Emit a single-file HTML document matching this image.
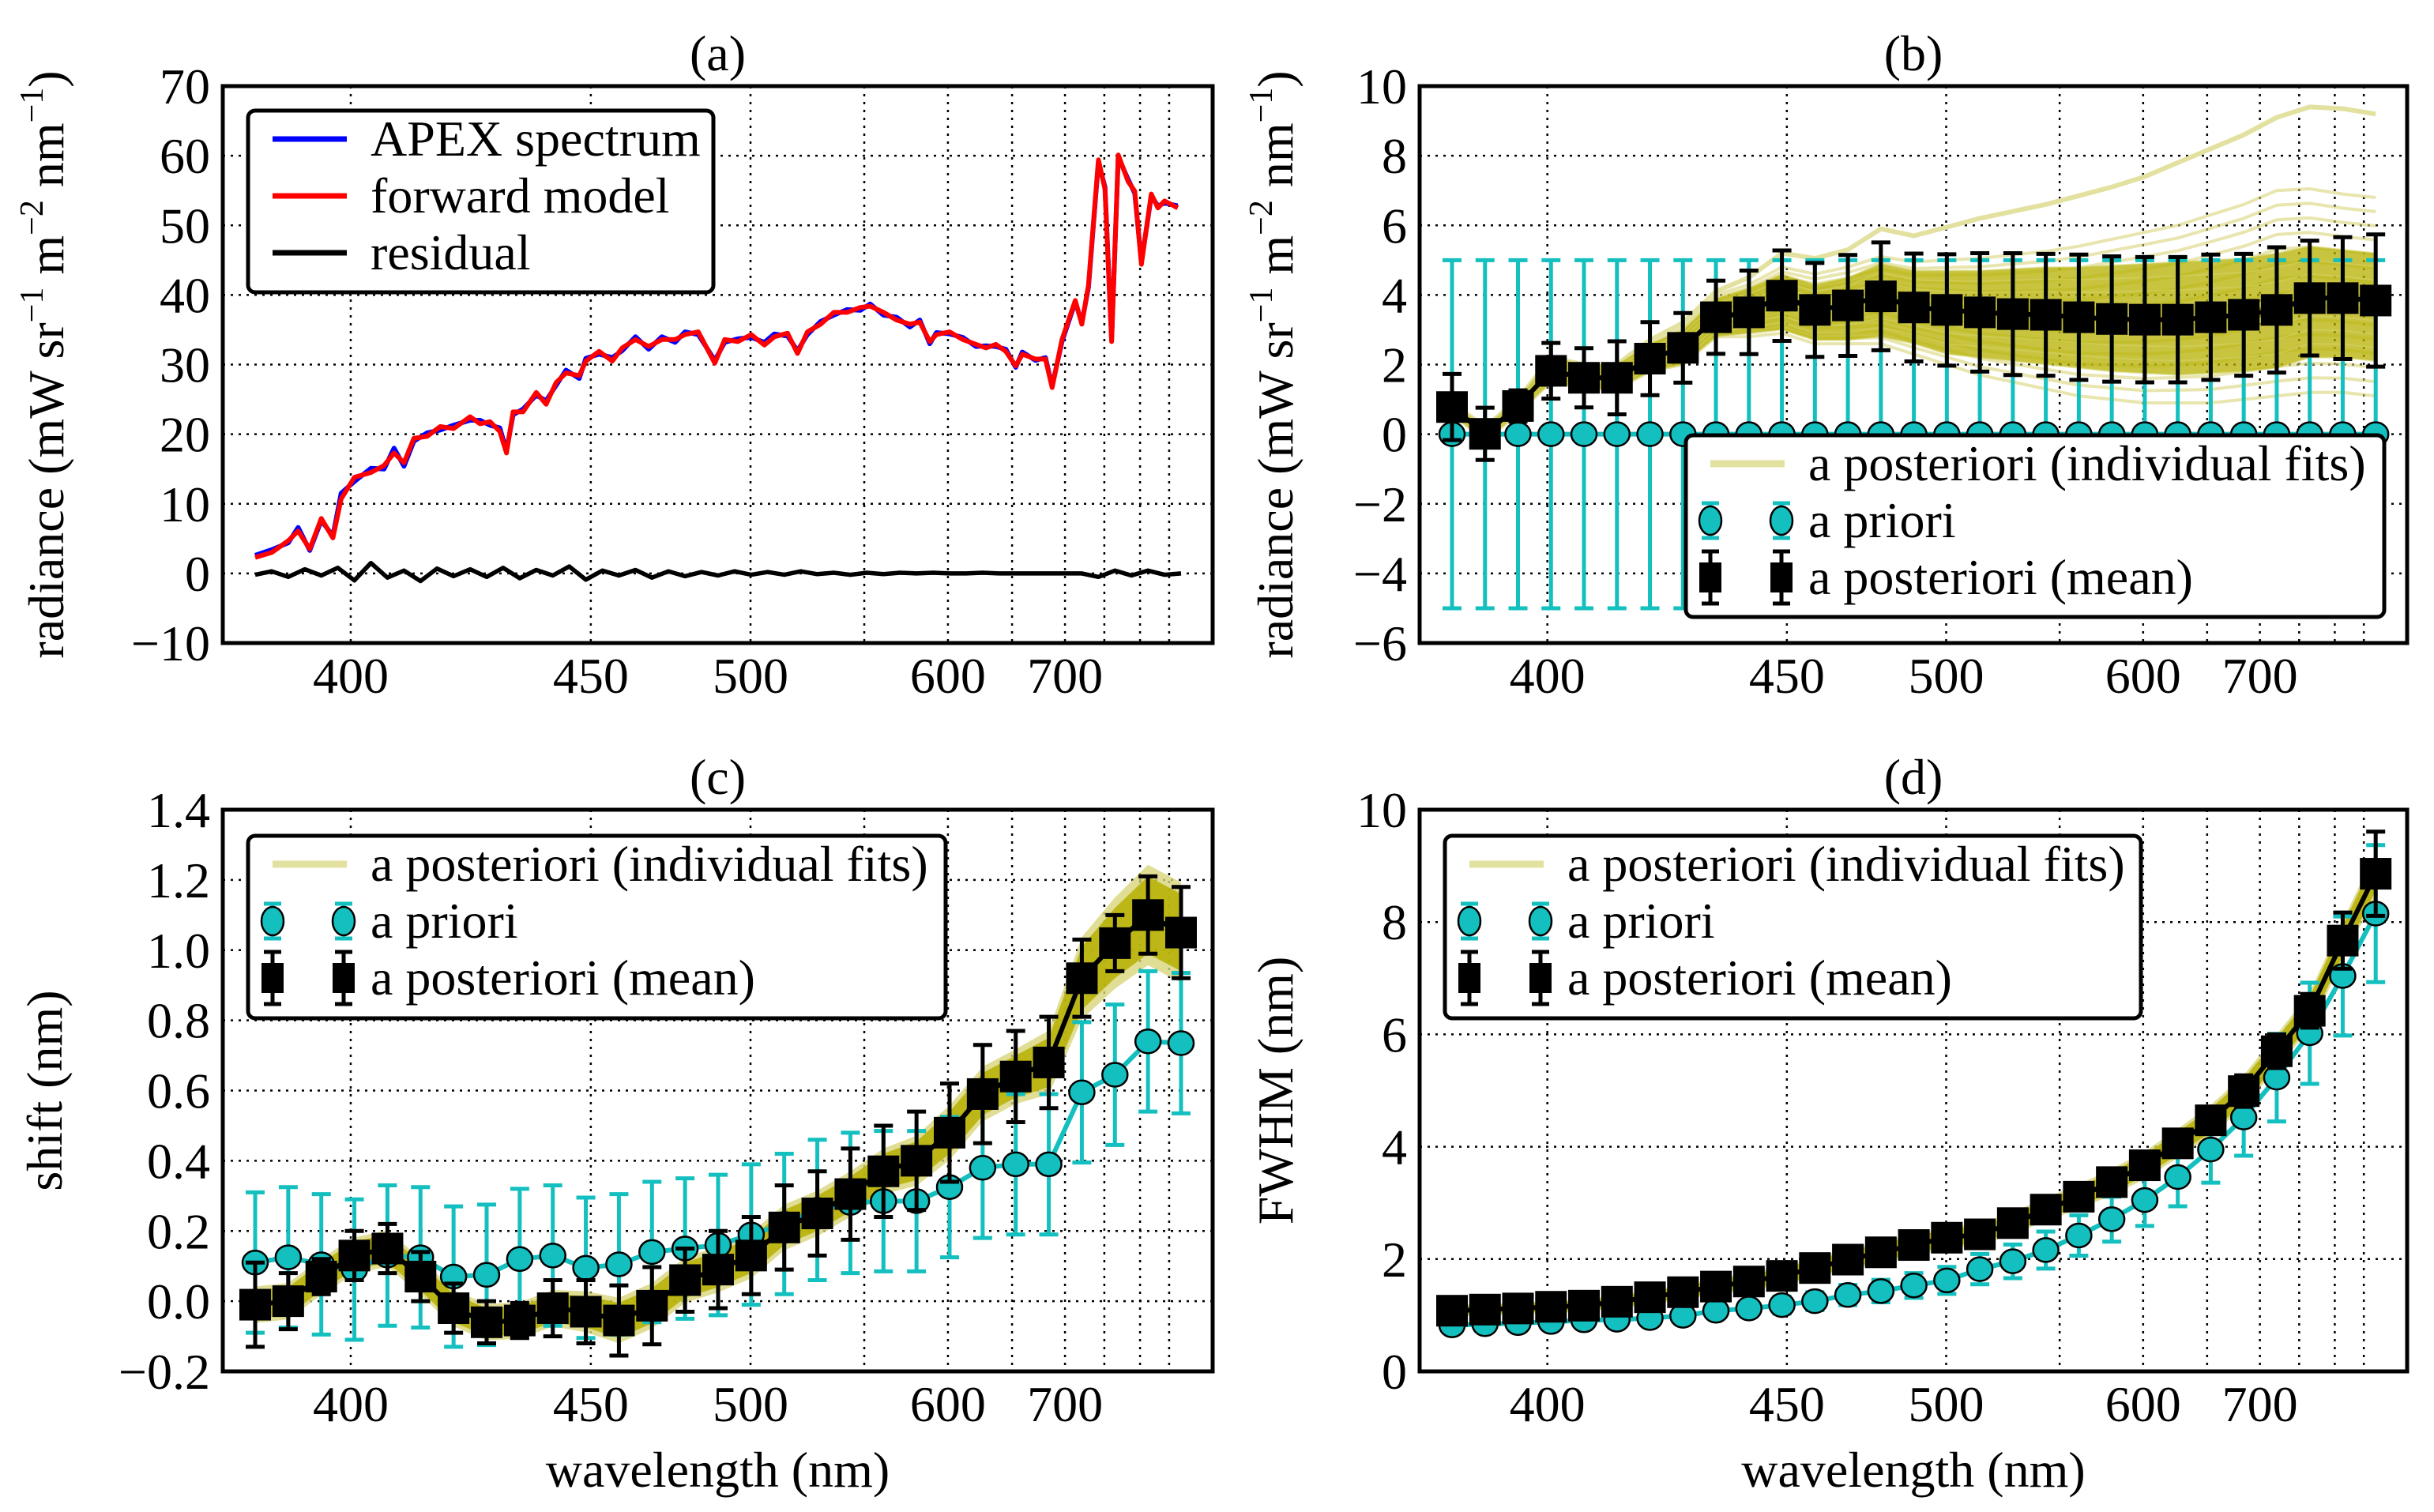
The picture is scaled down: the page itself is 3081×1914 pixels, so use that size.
<!DOCTYPE html>
<html><head><meta charset="utf-8"><style>
html,body{margin:0;padding:0;background:#fff;}
svg{display:block;font-family:"Liberation Serif","DejaVu Serif",serif;}
</style></head><body>
<svg id="fig" xmlns="http://www.w3.org/2000/svg" width="3081" height="1914" viewBox="0 0 3081 1914"></svg>
<script>
// ---- shared x axis (sample index space; wavelength tick labels) ----
const tickIdx=[2.89,10.15,14.98,18.42,20.95,22.89,24.49,25.68,26.76,27.64];
const tickWl=[400,450,500,550,600,650,700,750,800,850];
const tickShown=[true,true,true,false,true,false,true,false,false,false];
const sampleIdx=[0,1,2,3,4,5,6,7,8,9,10,11,12,13,14,15,16,17,18,19,20,21,22,23,24,25,26,27,28];

// ---- panel (a) ----
const specIdx=[0,0.5,1,1.3,1.65,2,2.35,2.6,3,3.5,3.9,4.2,4.5,4.8,5.2,5.6,6,6.5,6.8,7.1,7.4,7.6,7.8,8.1,8.5,8.8,9.1,9.4,9.8,10,10.4,10.8,11.1,11.5,11.9,12.3,12.7,13,13.4,13.9,14.2,14.6,15,15.4,15.7,16.1,16.4,16.7,17.1,17.5,17.9,18.3,18.6,19,19.4,19.8,20.1,20.4,20.6,21,21.4,21.8,22.1,22.4,22.7,23,23.2,23.6,23.9,24.1,24.4,24.8,25,25.2,25.5,25.7,25.9,26.1,26.4,26.6,26.8,27.1,27.3,27.5,27.9];
const forwardModel=[2.3,3.0,4.7,6.1,3.5,7.9,5.1,10.7,13.8,14.5,15.5,17.3,15.9,19.4,19.7,21.1,20.8,22.5,21.5,21.8,20.4,17.3,23.2,23.2,26.0,24.3,27.4,28.8,28.4,30.5,31.9,30.5,32.4,33.6,32.6,33.6,33.6,34.3,34.7,30.2,33.6,33.3,34.3,32.8,34.0,34.5,31.6,34.7,35.8,37.5,37.5,38.2,38.4,37.5,36.4,35.8,36.1,33.3,34.3,34.7,33.6,32.9,32.4,32.9,31.9,29.8,31.5,30.8,30.8,26.7,33.6,39.2,35.8,41.4,59.4,55.2,33.3,60.1,56.3,54.9,44.4,54.5,52.5,53.5,52.5];
const apexSpectrum=[2.6,3.4,4.4,6.6,3.3,7.6,5.4,11.5,13.2,15.1,15.0,18.0,15.4,19.0,20.2,20.6,21.3,22.0,22.0,21.3,20.9,17.6,22.8,23.6,25.6,24.8,27.0,29.2,28.0,30.9,31.5,31.0,32.0,34.0,32.2,34.0,33.2,34.7,34.3,30.6,33.2,33.7,33.9,33.2,34.4,34.1,32.0,34.3,36.2,37.1,37.9,37.8,38.7,37.1,36.8,35.4,36.4,33.0,34.6,34.4,33.9,32.6,32.7,32.6,32.2,29.6,31.8,30.6,31.0,26.9,33.3,39.0,36.0,41.1,59.1,55.5,33.6,59.8,56.6,54.6,44.7,54.2,52.8,53.2,52.8];
const residual=[-0.2,0.3,-0.5,0.6,-0.3,0.8,-1.0,1.5,-0.6,0.4,-1.1,0.7,-0.4,0.6,-0.5,0.8,-0.7,0.5,-0.3,1.0,-0.9,0.4,-0.3,0.5,-0.6,0.3,-0.4,0.2,-0.3,0.3,-0.2,0.2,-0.2,0.3,-0.1,0.1,-0.2,0.1,-0.1,0.1,0,0.1,0,0,0.1,0,0,0,0,0,0,-0.5,0.4,-0.3,0.4,-0.2,0];

// ---- panel (b) ----
const bMean=[0.78,0.01,0.81,1.82,1.62,1.62,2.17,2.48,3.36,3.5,3.98,3.57,3.7,3.96,3.64,3.57,3.5,3.45,3.43,3.36,3.31,3.29,3.29,3.36,3.43,3.57,3.91,3.91,3.84];
const bMeanErr=[0.95,0.75,0.45,0.8,0.85,1.05,1.05,1.0,1.05,1.2,1.3,1.35,1.45,1.55,1.55,1.6,1.7,1.75,1.75,1.8,1.8,1.8,1.8,1.8,1.75,1.8,1.65,1.75,1.9];
const bPrior=[0,0,0,0,0,0,0,0,0,0,0,0,0,0,0,0,0,0,0,0,0,0,0,0,0,0,0,0,0];
const bPriorErr=[5,5,5,5,5,5,5,5,5,5,5,5,5,5,5,5,5,5,5,5,5,5,5,5,5,5,5,5,5];
const bBandHi=[0.9,0.2,1.0,2.2,2.0,2.0,2.6,3.0,3.9,4.2,4.6,4.3,4.5,4.9,4.7,4.7,4.7,4.75,4.8,4.8,4.85,4.9,4.95,5.0,5.05,5.2,5.4,5.3,5.2];
const bBandLo=[0.6,-0.2,0.6,1.5,1.3,1.3,1.8,2.0,2.8,2.9,3.0,2.7,2.7,2.8,2.6,2.3,2.2,2.1,2.0,1.9,1.8,1.75,1.7,1.75,1.8,1.9,2.2,2.2,2.1];
const bFitHi=[0.9,0.2,1.0,2.2,2.0,2.0,2.6,3.1,4.0,4.3,4.8,4.6,4.8,5.1,4.95,5.0,5.05,5.15,5.25,5.4,5.6,5.8,6.0,6.3,6.6,7.0,7.05,6.9,6.8];
const bFitLo=[0.6,-0.2,0.6,1.5,1.3,1.3,1.8,2.0,2.8,2.8,2.9,2.6,2.6,2.6,2.3,2.0,1.7,1.5,1.3,1.1,1.0,0.9,0.9,0.9,1.0,1.1,1.2,1.2,1.1];
const bOutlier=[0.9,0.2,1.0,2.2,2.0,2.0,2.7,3.2,4.1,4.5,5.2,5.05,5.3,5.9,5.7,5.95,6.2,6.4,6.6,6.85,7.1,7.4,7.8,8.2,8.6,9.1,9.4,9.35,9.2];

// ---- panel (c) ----
const cMean=[-0.01,0.0,0.07,0.13,0.15,0.07,-0.02,-0.06,-0.055,-0.02,-0.03,-0.055,-0.013,0.06,0.09,0.13,0.21,0.25,0.305,0.37,0.40,0.48,0.59,0.64,0.68,0.92,1.02,1.10,1.05];
const cMeanErr=[0.12,0.08,0.05,0.07,0.07,0.07,0.07,0.06,0.05,0.08,0.09,0.1,0.11,0.09,0.11,0.11,0.12,0.12,0.13,0.13,0.14,0.14,0.14,0.13,0.13,0.11,0.08,0.11,0.13];
const cPrior=[0.11,0.125,0.105,0.09,0.13,0.125,0.07,0.075,0.12,0.13,0.095,0.105,0.14,0.15,0.16,0.19,0.22,0.26,0.28,0.285,0.285,0.325,0.38,0.39,0.39,0.595,0.645,0.74,0.735];
const cPriorErr=[0.2,0.2,0.2,0.2,0.2,0.2,0.2,0.2,0.2,0.2,0.2,0.2,0.2,0.2,0.2,0.2,0.2,0.2,0.2,0.2,0.2,0.2,0.2,0.2,0.2,0.2,0.2,0.2,0.2];
const cSpread=[0.04,0.04,0.04,0.04,0.04,0.04,0.04,0.04,0.04,0.04,0.045,0.05,0.05,0.05,0.05,0.05,0.05,0.05,0.05,0.05,0.055,0.06,0.06,0.06,0.07,0.09,0.1,0.11,0.11];

// ---- panel (d) ----
const dMean=[1.08,1.10,1.12,1.15,1.17,1.24,1.32,1.41,1.51,1.60,1.70,1.84,1.99,2.12,2.25,2.38,2.44,2.64,2.88,3.11,3.37,3.67,4.06,4.47,4.99,5.70,6.42,7.67,8.86];
const dMeanErr=[0.05,0.05,0.05,0.05,0.05,0.05,0.05,0.06,0.06,0.06,0.07,0.07,0.07,0.08,0.08,0.09,0.1,0.1,0.12,0.13,0.15,0.17,0.2,0.24,0.28,0.3,0.3,0.5,0.75];
const dPrior=[0.82,0.84,0.86,0.88,0.91,0.92,0.95,0.99,1.08,1.12,1.18,1.25,1.36,1.43,1.53,1.62,1.82,1.96,2.16,2.42,2.71,3.05,3.46,3.95,4.52,5.23,6.02,7.04,8.15];
const dPriorErr=[0.1,0.1,0.1,0.1,0.1,0.1,0.11,0.12,0.13,0.14,0.15,0.16,0.18,0.2,0.22,0.24,0.27,0.3,0.33,0.36,0.4,0.46,0.52,0.59,0.68,0.78,0.9,1.06,1.22];
const dSpread=[0.08,0.08,0.08,0.08,0.09,0.09,0.1,0.1,0.11,0.12,0.13,0.14,0.15,0.15,0.15,0.15,0.15,0.15,0.16,0.17,0.18,0.19,0.2,0.21,0.22,0.23,0.25,0.27,0.3];

const NS='http://www.w3.org/2000/svg';
const svg=document.getElementById('fig');
function mk(tag,attrs,parent){const e=document.createElementNS(NS,tag);for(const k in attrs)e.setAttribute(k,attrs[k]);(parent||svg).appendChild(e);return e;}
const FS=64;
const CYAN='#14bfbf';

function makePanel(p){
  p.x=i=>p.l+41+i*(1172/28)*(p.w/1253);
  p.y=v=>p.t+p.h*(p.ymax-v)/(p.ymax-p.ymin);
  const g=mk('g',{});
  
  
  p.g=g;
  const cp=mk('clipPath',{id:'clip-'+p.id},g);
  mk('rect',{x:p.l,y:p.t,width:p.w,height:p.h},cp);
  const grid=mk('g',{stroke:'#000','stroke-width':2.5,'stroke-dasharray':'3,7'},g);
  
  
  for(let k=0;k<tickIdx.length;k++){const X=p.x(tickIdx[k]);mk('line',{x1:X,x2:X,y1:p.t,y2:p.t+p.h},grid);}
  for(const v of p.yt){const Y=p.y(v);mk('line',{x1:p.l,x2:p.l+p.w,y1:Y,y2:Y},grid);}
  for(let k=0;k<tickIdx.length;k++){
    if(!tickShown[k])continue;
    const t=mk('text',{x:p.x(tickIdx[k]),y:p.t+p.h+63,'font-size':FS,'text-anchor':'middle'},g);
    
    
    t.textContent=tickWl[k];
  }
  for(const v of p.yt){
    const t=mk('text',{x:p.l-16,y:p.y(v)+22,'font-size':FS,'text-anchor':'end'},g);
    
    
    t.textContent=p.fmt(v);
  }
  const title=mk('text',{x:p.l+p.w/2,y:p.t-20,'font-size':FS,'text-anchor':'middle'},g);
  
  
  title.textContent='('+p.id+')';
  const yl=mk('text',{transform:`translate(${p.ylx},${p.t+p.h/2}) rotate(-90)`,'font-size':FS,'text-anchor':'middle'},g);
  
  
  if(p.ylab==='rad'){
    yl.innerHTML='radiance (mW sr<tspan font-size="42" dy="-26">−1</tspan><tspan dy="26"> m</tspan><tspan font-size="42" dy="-26">−2</tspan><tspan dy="26"> nm</tspan><tspan font-size="42" dy="-26">−1</tspan><tspan dy="26">)</tspan>';
  } else yl.textContent=p.ylab;
  if(p.xlab){
    const xl=mk('text',{x:p.l+p.w/2,y:1882,'font-size':FS,'text-anchor':'middle'},g);
    
    
    xl.textContent='wavelength (nm)';
  }
  const plot=mk('g',{'clip-path':`url(#clip-${p.id})`},g);
  
  
  p.plot=plot;
  return p;
}
function frame(p){
  const f=mk('rect',{x:p.l,y:p.t,width:p.w,height:p.h,fill:'none',stroke:'#000','stroke-width':5},p.g);
  
  
}
function pathD(p,xs,vs){return xs.map((i,k)=>(k?'L':'M')+p.x(i).toFixed(1)+','+p.y(vs[k]).toFixed(1)).join('');}
function line(p,xs,vs,color,w,name,op){
  const e=mk('path',{d:pathD(p,xs,vs),fill:'none',stroke:color,'stroke-width':w,'stroke-linejoin':'round','stroke-opacity':op||1},p.plot);
  
  
  return e;
}
function band(p,lo,hi,color,op,name){
  const d=pathD(p,sampleIdx,hi)+sampleIdx.slice().reverse().map(i=>'L'+p.x(i).toFixed(1)+','+p.y(lo[i]).toFixed(1)).join('')+'Z';
  const e=mk('path',{d:d,fill:color,'fill-opacity':op,stroke:'none'},p.plot);
  
  
}
function errSeries(p,vals,errs,color,marker,name){
  const g=mk('g',{},p.plot);
  
  
  for(let k=0;k<vals.length;k++){
    const X=p.x(sampleIdx[k]),y1=p.y(vals[k]+errs[k]),y2=p.y(vals[k]-errs[k]);
    const eb=mk('path',{d:`M${X},${y1}L${X},${y2}M${X-12},${y1}L${X+12},${y1}M${X-12},${y2}L${X+12},${y2}`,stroke:color,'stroke-width':5,fill:'none'},g);
    
    
  }
  const ln=mk('path',{d:pathD(p,sampleIdx,vals),fill:'none',stroke:color,'stroke-width':6,'stroke-linejoin':'round'},g);
  
  
  for(let k=0;k<vals.length;k++){
    const X=p.x(sampleIdx[k]),Y=p.y(vals[k]);
    let m;
    if(marker==='circle') m=mk('ellipse',{cx:X,cy:Y,rx:16,ry:15,fill:CYAN,stroke:'#000','stroke-width':2.5},g);
    else m=mk('rect',{x:X-20,y:Y-20,width:40,height:40,fill:'#000'},g);
    
    
  }
}
function legend(p,x,y,w,h,entries){
  const g=mk('g',{},p.g);
  
  
  const bx=mk('rect',{x:x,y:y,width:w,height:h,rx:9,fill:'#fff',stroke:'#000','stroke-width':5},g);
  
  
  entries.forEach((en,k)=>{
    const cy=y+36+k*72;
    const sx=x+31, ex=x+125;
    const eg=mk('g',{},g);
    
    
    if(en.type==='line'){mk('line',{x1:sx,x2:ex,y1:cy,y2:cy,stroke:en.color,'stroke-width':en.w||7},eg);}
    else{
      for(const X of [sx,sx+90]){
        const e=en.type==='circle'?22:33;
        mk('path',{d:`M${X},${cy-e}L${X},${cy+e}M${X-11},${cy-e}L${X+11},${cy-e}M${X-11},${cy+e}L${X+11},${cy+e}`,stroke:en.color,'stroke-width':5},eg);
        if(en.type==='circle')mk('ellipse',{cx:X,cy:cy,rx:14,ry:18,fill:CYAN,stroke:'#000','stroke-width':2.5},eg);
        else mk('rect',{x:X-14,y:cy-19,width:28,height:38,fill:'#000'},eg);
      }
    }
    const t=mk('text',{x:x+155,y:cy+21,'font-size':FS},eg);
    t.textContent=en.label;
  });
}
const fmt0=v=>(v<0?'−':'')+Math.abs(v);
const fmt1=v=>(v<0?'−':'')+Math.abs(v).toFixed(1);

// ===== Panel a =====
const pa=makePanel({id:'a',l:282,t:109,w:1253,h:705,ymin:-10,ymax:70,yt:[-10,0,10,20,30,40,50,60,70],fmt:fmt0,ylx:80,ylab:'rad'});
line(pa,specIdx,apexSpectrum,'#0000ff',6,'apex-spectrum-line');
line(pa,specIdx,forwardModel,'#ff0000',6,'forward-model-line');
const resIdx=residual.map((v,k)=>k*0.5);
line(pa,resIdx,residual,'#000',5.5,'residual-line');
frame(pa);
legend(pa,314,140,589,230,[{type:'line',color:'#0000ff',label:'APEX spectrum'},{type:'line',color:'#ff0000',label:'forward model'},{type:'line',color:'#000',label:'residual'}]);

// ===== Panel b =====
const pb=makePanel({id:'b',l:1797,t:109,w:1250,h:705,ymin:-6,ymax:10,yt:[-6,-4,-2,0,2,4,6,8,10],fmt:fmt0,ylx:1636,ylab:'rad'});
for(let s=0;s<=14;s++){
  const f=s/14;
  line(pb,sampleIdx,bFitLo.map((v,k)=>v+(bFitHi[k]-v)*f),'#d8d47a',4,'individual-fit-line',0.6);
}
line(pb,sampleIdx,bOutlier,'#e3e1a0',6,'individual-fit-outlier');
band(pb,bBandLo,bBandHi,'#b5b000',0.75,'individual-fits-band');
for(let s=0;s<=8;s++){
  const f=s/8;
  line(pb,sampleIdx,bBandLo.map((v,k)=>v+(bBandHi[k]-v)*f),'#d6d36a',2,'individual-fit-line',0.5);
}
errSeries(pb,bPrior,bPriorErr,CYAN,'circle','a-priori-series');
errSeries(pb,bMean,bMeanErr,'#000','square','a-posteriori-mean-series');
frame(pb);
legend(pb,2134,551,884,230,[{type:'line',color:'#e3e1a0',w:9,label:'a posteriori (individual fits)'},{type:'circle',color:CYAN,label:'a priori'},{type:'square',color:'#000',label:'a posteriori (mean)'}]);

// ===== Panel c =====
const pc=makePanel({id:'c',l:282,t:1025,w:1253,h:711,ymin:-0.2,ymax:1.4,yt:[-0.2,0,0.2,0.4,0.6,0.8,1.0,1.2,1.4],fmt:fmt1,ylx:78,ylab:'shift (nm)',xlab:true});
band(pc,cMean.map((v,k)=>v-cSpread[k]*1.3),cMean.map((v,k)=>v+cSpread[k]*1.3),'#d8d47a',0.8,'individual-fits-outer');
band(pc,cMean.map((v,k)=>v-cSpread[k]),cMean.map((v,k)=>v+cSpread[k]),'#b5b000',0.85,'individual-fits-band');
errSeries(pc,cPrior,cPriorErr,CYAN,'circle','a-priori-series');
errSeries(pc,cMean,cMeanErr,'#000','square','a-posteriori-mean-series');
frame(pc);
legend(pc,314,1058,883,231,[{type:'line',color:'#e3e1a0',w:9,label:'a posteriori (individual fits)'},{type:'circle',color:CYAN,label:'a priori'},{type:'square',color:'#000',label:'a posteriori (mean)'}]);

// ===== Panel d =====
const pd=makePanel({id:'d',l:1797,t:1025,w:1250,h:711,ymin:0,ymax:10,yt:[0,2,4,6,8,10],fmt:fmt0,ylx:1636,ylab:'FWHM (nm)',xlab:true});
band(pd,dMean.map((v,k)=>v-dSpread[k]*1.3),dMean.map((v,k)=>v+dSpread[k]*1.3),'#d8d47a',0.8,'individual-fits-outer');
band(pd,dMean.map((v,k)=>v-dSpread[k]),dMean.map((v,k)=>v+dSpread[k]),'#b5b000',0.85,'individual-fits-band');
errSeries(pd,dPrior,dPriorErr,CYAN,'circle','a-priori-series');
errSeries(pd,dMean,dMeanErr,'#000','square','a-posteriori-mean-series');
frame(pd);
legend(pd,1829,1058,881,231,[{type:'line',color:'#e3e1a0',w:9,label:'a posteriori (individual fits)'},{type:'circle',color:CYAN,label:'a priori'},{type:'square',color:'#000',label:'a posteriori (mean)'}]);
</script>
</body></html>
